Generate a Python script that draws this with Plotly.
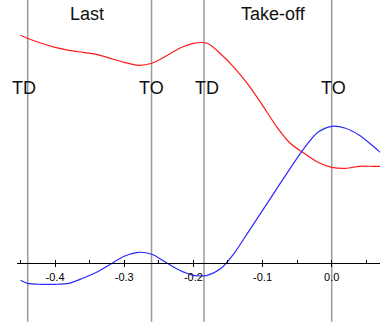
import plotly.graph_objects as go

# Time (s) relative to take-off of the final stride
time_s = [-0.45, -0.44, -0.42, -0.40, -0.38, -0.36, -0.34, -0.32, -0.30, -0.28,
          -0.26, -0.24, -0.22, -0.20, -0.18, -0.16, -0.14, -0.12, -0.10, -0.08,
          -0.06, -0.04, -0.02, 0.00, 0.02, 0.04, 0.06, 0.07]

# Horizontal trace (red) and vertical trace (blue), arbitrary units
red_vals = [2.28, 2.25, 2.20, 2.16, 2.13, 2.11, 2.09, 2.05, 2.01, 1.98,
            2.00, 2.07, 2.15, 2.20, 2.20, 2.09, 1.95, 1.78, 1.58, 1.37,
            1.20, 1.10, 1.01, 0.96, 0.95, 0.97, 0.97, 0.97]
blue_vals = [-0.17, -0.20, -0.21, -0.21, -0.20, -0.15, -0.09, -0.01, 0.07, 0.11,
             0.09, 0.01, -0.07, -0.12, -0.12, -0.05, 0.11, 0.32, 0.53, 0.74,
             0.95, 1.15, 1.31, 1.37, 1.35, 1.28, 1.17, 1.11]

# Touch-down / take-off events
event_times = [-0.4395, -0.2605, -0.1846, 0.0]
event_labels = ["TD", "TO", "TD", "TO"]
event_label_x = [-0.4456, -0.2605, -0.181, 0.002]

# Phase names
phase_labels = ["Last", "Take-off"]
phase_label_x = [-0.3537, -0.0849]

tick_vals = [-0.4, -0.3, -0.2, -0.1, 0.0]
tick_text = ["-0.4", "-0.3", "-0.2", "-0.1", "0.0"]
minor_vals = [-0.45, -0.35, -0.25, -0.15, -0.05, 0.05]

x_range = [-0.455, 0.0698]
y_range = [-0.637, 2.633]
axis_pos = -y_range[0] / (y_range[1] - y_range[0])

FONT = "Liberation Sans, Arial, sans-serif"

fig = go.Figure()
fig.add_trace(go.Scatter(x=time_s, y=red_vals, mode="lines",
                         line=dict(color="#ff1a1a", width=1.2, shape="spline", smoothing=0.8),
                         hoverinfo="skip", showlegend=False))
fig.add_trace(go.Scatter(x=time_s, y=blue_vals, mode="lines", xaxis="x2",
                         line=dict(color="#2a2aff", width=1.2, shape="spline", smoothing=0.8),
                         hoverinfo="skip", showlegend=False))

for t in event_times:
    fig.add_shape(type="line", xref="x", yref="paper", x0=t, x1=t,
                  y0=0.016, y1=1, line=dict(color="#9a9a9a", width=1.5), layer="below")

for lbl, x in zip(event_labels, event_label_x):
    fig.add_annotation(x=x, xref="x", y=1 - 87.5 / 327, yref="paper", text=lbl,
                       showarrow=False, xanchor="center", yanchor="middle",
                       font=dict(family=FONT, size=18, color="#111"))

for lbl, x in zip(phase_labels, phase_label_x):
    fig.add_annotation(x=x, xref="x", y=1 - 14 / 327, yref="paper", text=lbl,
                       showarrow=False, xanchor="center", yanchor="middle",
                       font=dict(family=FONT, size=18, color="#111"))

fig.update_layout(
    width=380, height=327,
    margin=dict(l=17, r=0, t=0, b=0),
    paper_bgcolor="white", plot_bgcolor="white",
    xaxis=dict(range=x_range, anchor="free", position=axis_pos,
               showline=True, linecolor="black", linewidth=1,
               showgrid=False, zeroline=False,
               tickmode="array", tickvals=tick_vals, ticktext=tick_text,
               ticks="outside", ticklen=3, tickwidth=1, tickcolor="black",
               tickfont=dict(family=FONT, size=11, color="black"),
               minor=dict(tickmode="array", tickvals=minor_vals, ticks="inside",
                          ticklen=3, tickwidth=1, tickcolor="black", showgrid=False)),
    xaxis2=dict(range=x_range, overlaying="x", matches="x", anchor="free",
                position=axis_pos, showline=False, showgrid=False, zeroline=False,
                tickmode="array", tickvals=tick_vals, showticklabels=False,
                ticks="inside", ticklen=3, tickwidth=1, tickcolor="black"),
    yaxis=dict(range=y_range, visible=False, showgrid=False, zeroline=False),
)

fig.write_html("out.html")
